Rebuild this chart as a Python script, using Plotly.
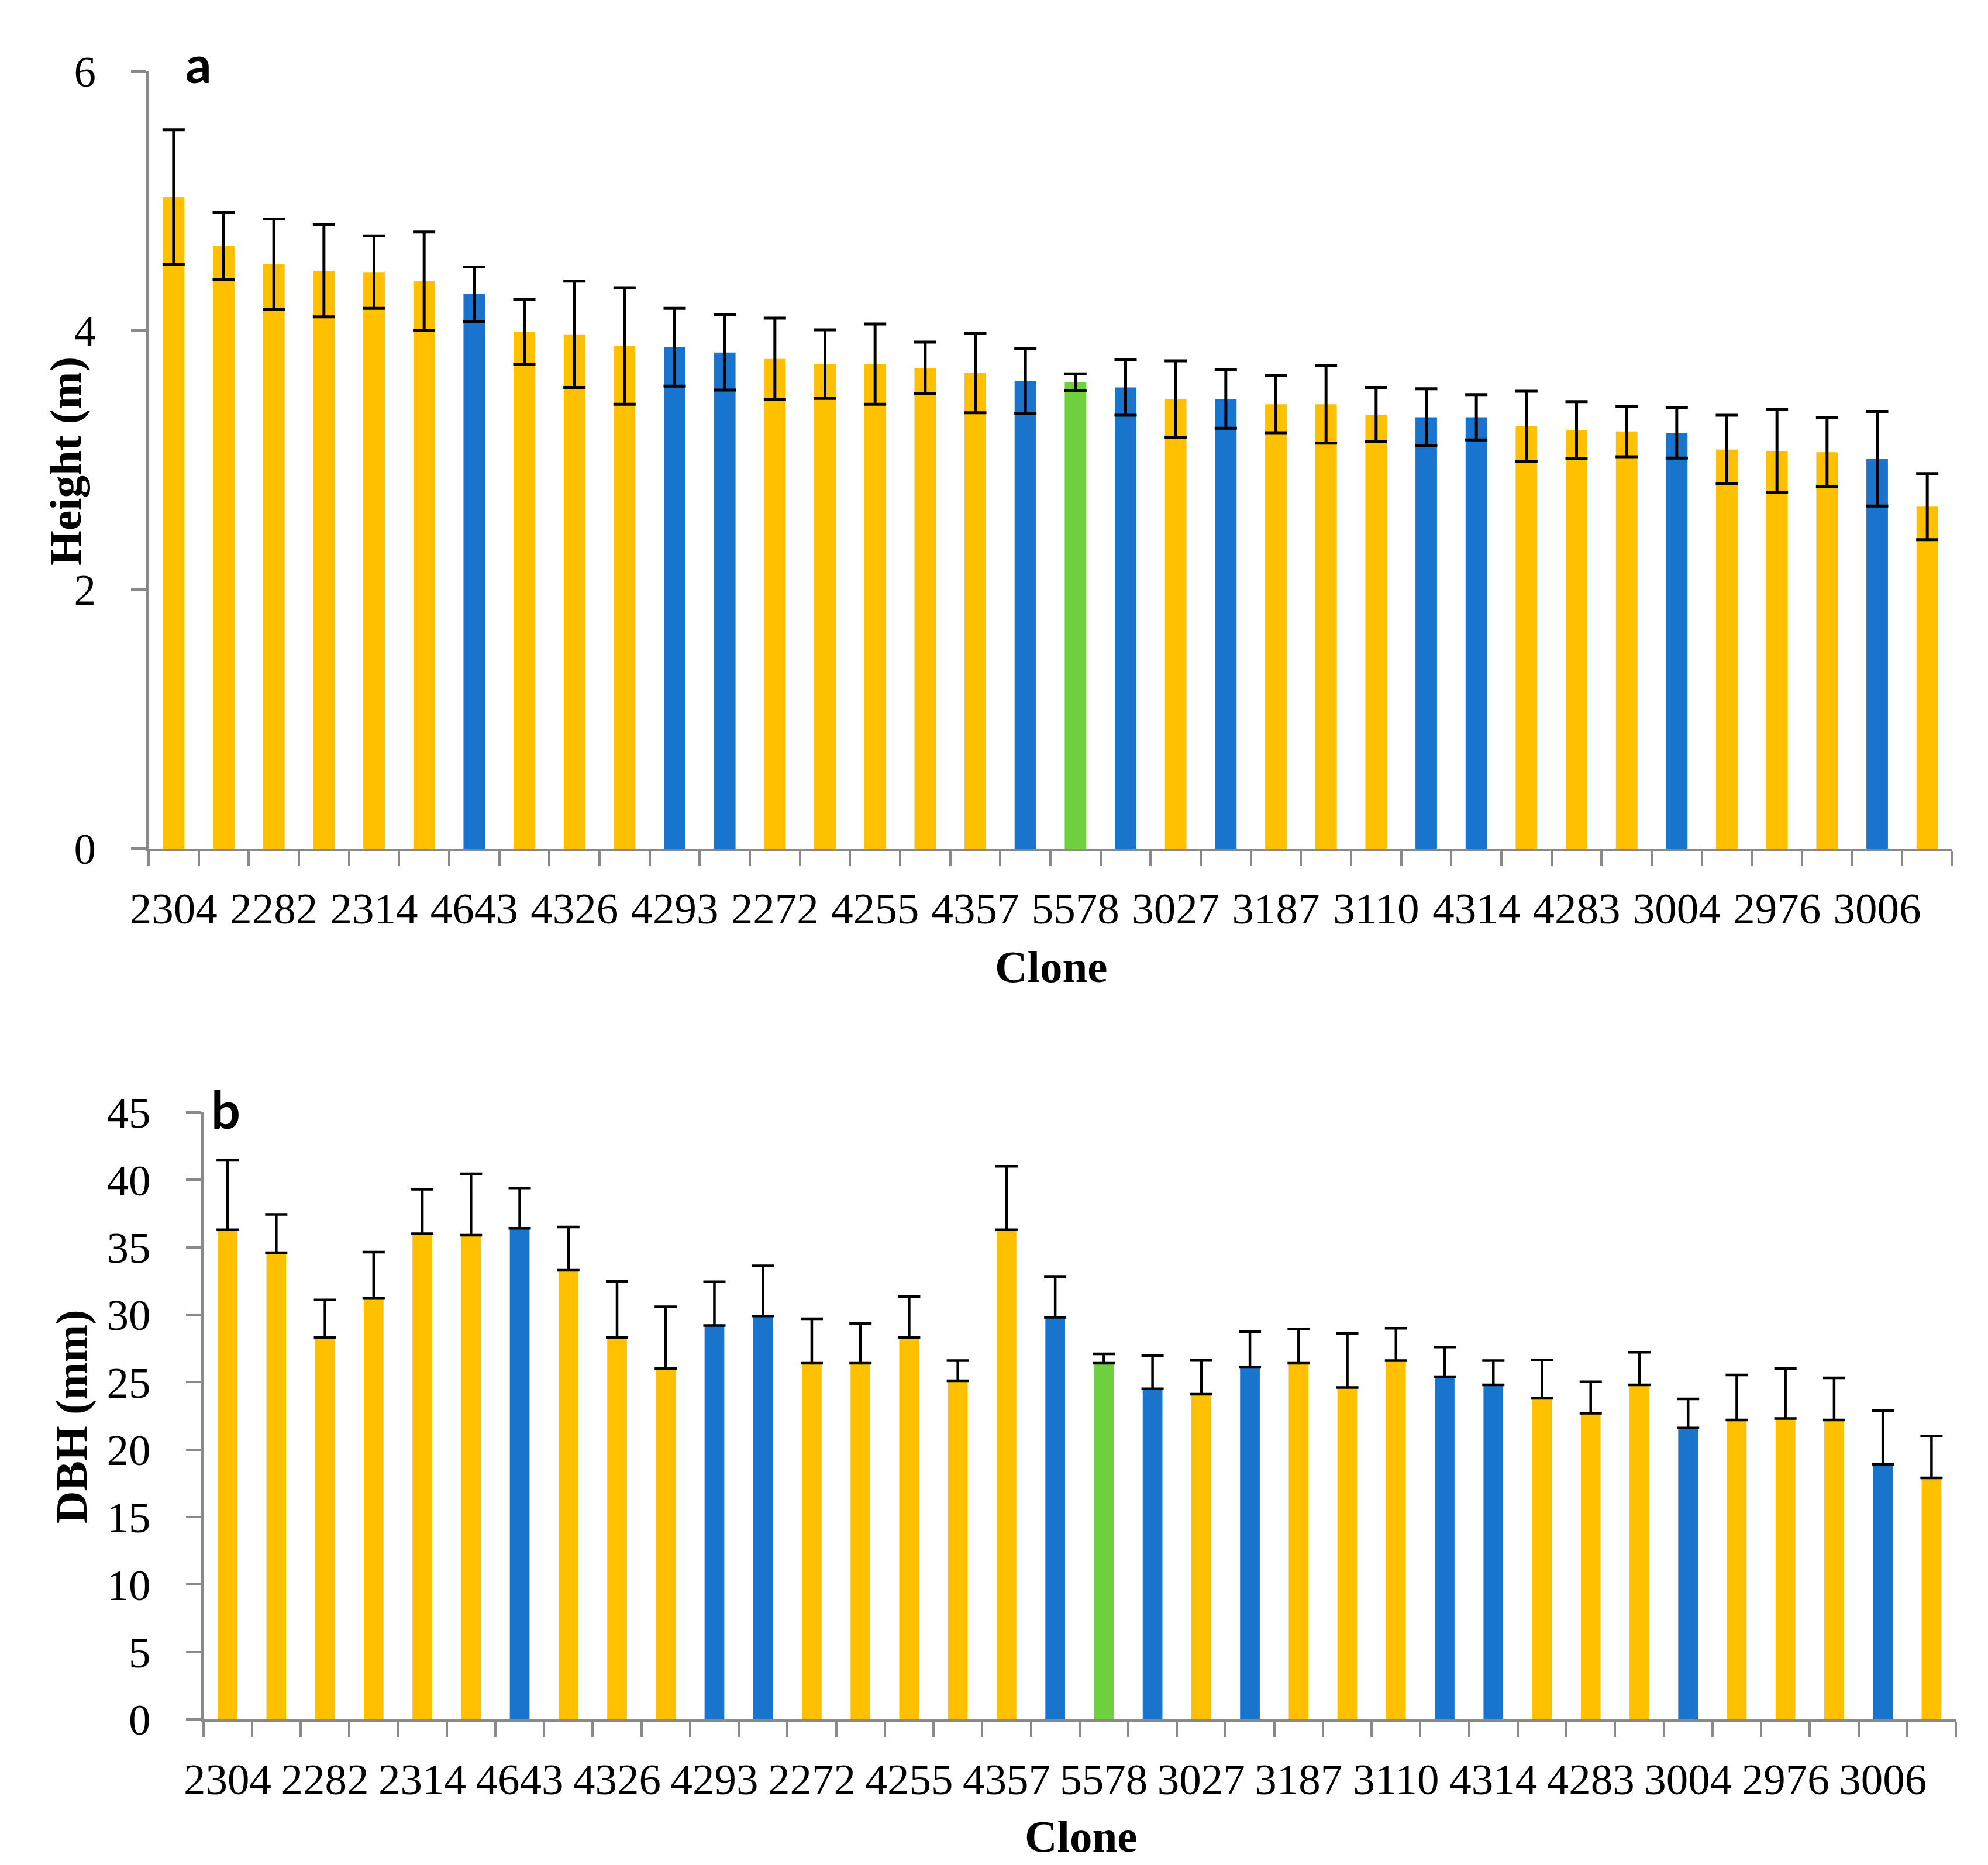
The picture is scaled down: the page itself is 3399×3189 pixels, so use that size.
import plotly.graph_objects as go

# Clone labels shown under every second bar (the axis skips the others)
clone_labels = ['2304', '2282', '2314', '4643', '4326', '4293', '2272', '4255', '4357',
                '5578', '3027', '3187', '3110', '4314', '4283', '3004', '2976', '3006']

# group of each clone, same order in both panels
groups = ['Y', 'Y', 'Y', 'Y', 'Y', 'Y', 'B', 'Y', 'Y', 'Y', 'B', 'B',
          'Y', 'Y', 'Y', 'Y', 'Y', 'B', 'G', 'B', 'Y', 'B', 'Y', 'Y',
          'Y', 'B', 'B', 'Y', 'Y', 'Y', 'B', 'Y', 'Y', 'Y', 'B', 'Y']

# panel a: height (m) and its error
height = [5.03, 4.65, 4.51, 4.46, 4.45, 4.38, 4.28, 3.99, 3.97, 3.88, 3.87, 3.83,
          3.78, 3.74, 3.74, 3.71, 3.67, 3.61, 3.60, 3.56, 3.47, 3.47, 3.43, 3.43,
          3.35, 3.33, 3.33, 3.26, 3.23, 3.22, 3.21, 3.08, 3.07, 3.06, 3.01, 2.64]
height_err = [0.52, 0.26, 0.35, 0.355, 0.28, 0.38, 0.21, 0.25, 0.41, 0.45, 0.30, 0.29,
              0.315, 0.265, 0.31, 0.20, 0.305, 0.25, 0.065, 0.215, 0.295, 0.225, 0.22, 0.30,
              0.21, 0.22, 0.175, 0.27, 0.22, 0.195, 0.195, 0.265, 0.32, 0.265, 0.365, 0.255]

# panel b: DBH (mm) and its (upper) error
dbh = [36.3, 34.6, 28.3, 31.2, 36.0, 35.9, 36.4, 33.3, 28.3, 26.0, 29.2, 29.9,
       26.4, 26.4, 28.3, 25.1, 36.3, 29.8, 26.4, 24.5, 24.1, 26.1, 26.4, 24.6,
       26.6, 25.4, 24.8, 23.8, 22.7, 24.8, 21.6, 22.2, 22.3, 22.2, 18.9, 17.9]
dbh_err = [5.15, 2.83, 2.8, 3.44, 3.3, 4.55, 3.0, 3.2, 4.17, 4.58, 3.24, 3.72,
           3.3, 2.96, 3.05, 1.5, 4.7, 3.0, 0.7, 2.48, 2.51, 2.64, 2.54, 4.0,
           2.39, 2.2, 1.8, 2.83, 2.32, 2.42, 2.16, 3.34, 3.72, 3.12, 3.98, 3.12]

colors = {'Y': '#FFC000', 'B': '#1874CD', 'G': '#6FD13F'}
bar_colors = [colors[g] for g in groups]
pos = list(range(len(groups)))

W, H = 3399, 3189
AXIS_GREY = '#898989'
SERIF = 'Liberation Serif'

fig = go.Figure()

fig.add_trace(go.Bar(x=pos, y=height, marker=dict(color=bar_colors, line=dict(width=0)),
                     width=0.43, xaxis='x', yaxis='y', showlegend=False,
                     error_y=dict(type='data', array=height_err, visible=True,
                                  color='black', thickness=5, width=19)))

fig.add_trace(go.Bar(x=pos, y=dbh, marker=dict(color=bar_colors, line=dict(width=0)),
                     width=0.405, xaxis='x2', yaxis='y2', showlegend=False,
                     error_y=dict(type='data', symmetric=False, array=dbh_err,
                                  arrayminus=[0] * len(dbh), visible=True,
                                  color='black', thickness=4.5, width=19)))


def x_axis(domain, anchor):
    return dict(domain=domain, anchor=anchor, range=[-0.5, len(pos) - 0.5],
                showgrid=False, zeroline=False, showline=True,
                linecolor=AXIS_GREY, linewidth=4,
                tickmode='array', tickvals=pos[::2], ticktext=clone_labels,
                ticks='', ticklabelstandoff=34,
                tickfont=dict(family=SERIF, size=75, color='black'),
                minor=dict(tickvals=[p - 0.5 for p in pos] + [len(pos) - 0.5],
                           ticks='outside', ticklen=26, tickwidth=4, tickcolor=AXIS_GREY))


def y_axis(domain, anchor, rng, dtick):
    return dict(domain=domain, anchor=anchor, range=rng, dtick=dtick, tick0=0,
                showgrid=False, zeroline=False, showline=True,
                linecolor=AXIS_GREY, linewidth=4,
                ticks='outside', ticklen=26, tickwidth=4, tickcolor=AXIS_GREY,
                ticklabelstandoff=45,
                tickfont=dict(family=SERIF, size=75, color='black'))


fig.update_layout(
    width=W, height=H,
    margin=dict(l=0, r=0, t=0, b=0, autoexpand=False),
    paper_bgcolor='white', plot_bgcolor='white',
    bargap=0.5,
    xaxis=x_axis([246 / W, 3330 / W], 'y'),
    yaxis=y_axis([1 - 1443 / H, 1 - 114 / H], 'x', [0, 6], 2),
    xaxis2=x_axis([339.5 / W, 3336 / W], 'y2'),
    yaxis2=y_axis([1 - 2932 / H, 1 - 1894 / H], 'x2', [0, 45], 5),
)

title_font = dict(family=SERIF, size=77, color='black', weight='bold')
panel_font = dict(family='Lato', size=88, color='black', weight='bold')


def label(text, x, y, font, angle=0):
    fig.add_annotation(text=text, textangle=angle, x=x / W, y=1 - y / H,
                       xref='paper', yref='paper', xanchor='center', yanchor='middle',
                       showarrow=False, font=font)


label('Height (m)', 104, 781, title_font, -90)
label('DBH (mm)', 114, 2414, title_font, -90)
label('Clone', 1790, 1645, title_font)
label('Clone', 1840, 3132, title_font)
label('a', 331, 100, panel_font)
label('b', 378, 1888, panel_font)

fig.write_html("out.html")
